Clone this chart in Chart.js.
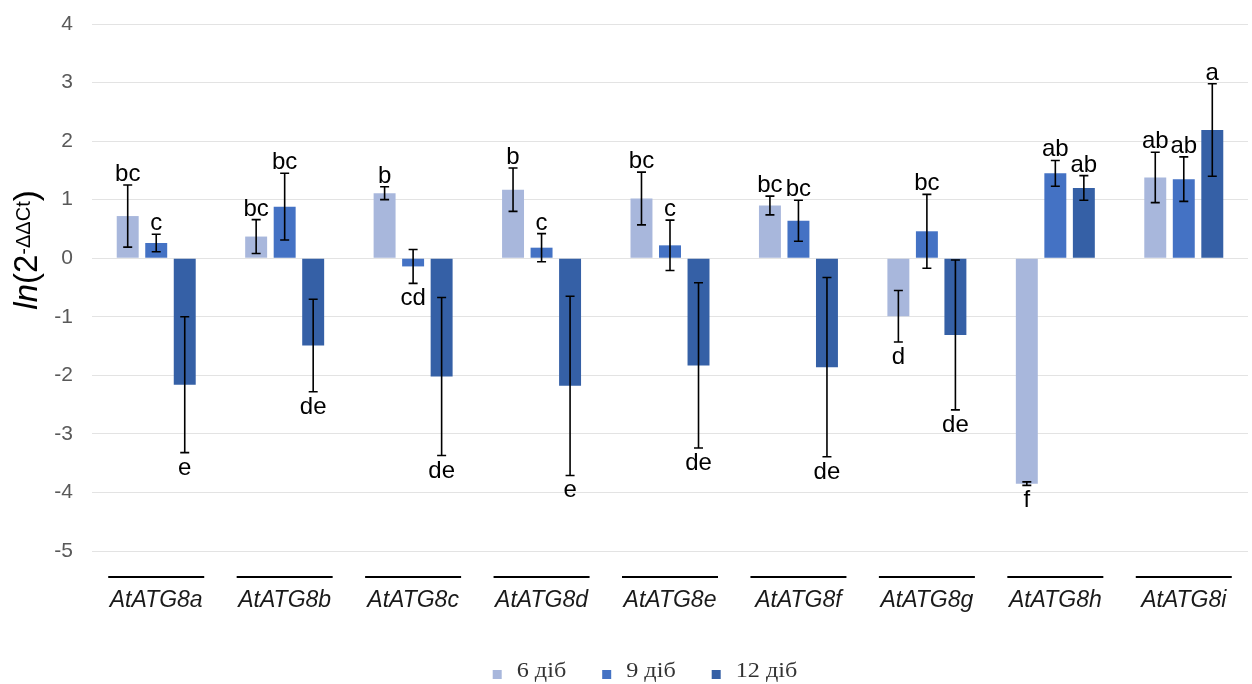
<!DOCTYPE html>
<html>
<head>
<meta charset="utf-8">
<script src="https://cdn.jsdelivr.net/npm/chart.js@4.4.1/dist/chart.umd.min.js"></script>
<style>
  body { margin: 0; background: #fff; }
  #wrap { width: 1252px; height: 684px; }
</style>
</head>
<body>
<div id="wrap"><canvas id="expr" width="1252" height="684"></canvas></div>
<script>
const genes = ["AtATG8a", "AtATG8b", "AtATG8c", "AtATG8d", "AtATG8e", "AtATG8f", "AtATG8g", "AtATG8h", "AtATG8i"];

// ln(2^-ddCt) means and error half-widths
const day6 = [0.72, 0.37, 1.11, 1.17, 1.02, 0.90, -0.99, -3.85, 1.38];
const day6Err = [0.53, 0.29, 0.11, 0.37, 0.45, 0.16, 0.44, 0.03, 0.43];
const day9 = [0.26, 0.88, -0.14, 0.18, 0.22, 0.64, 0.46, 1.45, 1.35];
const day9Err = [0.15, 0.57, 0.29, 0.24, 0.43, 0.35, 0.63, 0.22, 0.38];
const day12 = [-2.16, -1.49, -2.02, -2.18, -1.83, -1.86, -1.31, 1.20, 2.19];
const day12Err = [1.16, 0.79, 1.35, 1.53, 1.41, 1.53, 1.28, 0.21, 0.79];

// significance letters
const day6Letters = ["bc", "bc", "b", "b", "bc", "bc", "d", "f", "ab"];
const day9Letters = ["c", "bc", "cd", "c", "c", "bc", "bc", "ab", "ab"];
const day12Letters = ["e", "de", "de", "e", "de", "de", "de", "ab", "a"];

const seriesNames = ["6 діб", "9 діб", "12 діб"];

const SANS = '"Liberation Sans", Arial, sans-serif';
const SERIF = '"Liberation Serif", "Times New Roman", serif';

function wideText(ctx, txt, x, y, sx, align) {
    ctx.save();
    ctx.translate(x, y);
    ctx.scale(sx, 1);
    ctx.textAlign = align;
    ctx.fillText(txt, 0, 0);
    ctx.restore();
}

const errorBars = {
    id: "errorBars",
    afterDatasetsDraw(chart) {
        const ctx = chart.ctx;
        const y = chart.scales.y;
        chart.data.datasets.forEach((ds, i) => {
            const meta = chart.getDatasetMeta(i);
            meta.data.forEach((bar, j) => {
                const v = ds.data[j];
                const e = ds.errors[j];
                const top = y.getPixelForValue(v + e);
                const bot = y.getPixelForValue(v - e);
                ctx.save();
                ctx.strokeStyle = "#000";
                ctx.lineWidth = 1.6;
                ctx.beginPath();
                ctx.moveTo(bar.x, top);
                ctx.lineTo(bar.x, bot);
                ctx.moveTo(bar.x - 4.5, top);
                ctx.lineTo(bar.x + 4.5, top);
                ctx.moveTo(bar.x - 4.5, bot);
                ctx.lineTo(bar.x + 4.5, bot);
                ctx.stroke();

                ctx.fillStyle = "#000";
                ctx.font = "24px " + SANS;
                ctx.textBaseline = "alphabetic";
                if (v >= 0) {
                    wideText(ctx, ds.letters[j], bar.x, top - 4, 1, "center");
                } else {
                    wideText(ctx, ds.letters[j], bar.x, bot + 22, 1, "center");
                }
                ctx.restore();
            });
        });
    },
    afterDraw(chart) {
        const ctx = chart.ctx;
        const y = chart.scales.y;
        const x = chart.scales.x;

        // y tick labels
        ctx.save();
        ctx.fillStyle = "#595959";
        ctx.font = "21px " + SANS;
        ctx.textBaseline = "middle";
        y.ticks.forEach((t) => {
            wideText(ctx, String(t.value), 73, y.getPixelForValue(t.value), 1, "right");
        });
        ctx.restore();

        // gene names with a rule above each
        ctx.save();
        ctx.strokeStyle = "#000";
        ctx.lineWidth = 2;
        ctx.fillStyle = "#1a1a1a";
        ctx.font = "italic 23px " + SANS;
        ctx.textBaseline = "alphabetic";
        genes.forEach((g, j) => {
            const cx = x.getPixelForValue(j);
            ctx.beginPath();
            ctx.moveTo(cx - 48, 577);
            ctx.lineTo(cx + 48, 577);
            ctx.stroke();
            wideText(ctx, g, cx, 607, 1, "center");
        });
        ctx.restore();

        // y axis title: ln(2^-ΔΔCt)
        ctx.save();
        ctx.translate(0, 250);
        ctx.rotate(-Math.PI / 2);
        ctx.fillStyle = "#000";
        ctx.textBaseline = "alphabetic";
        ctx.textAlign = "left";
        const parts = [
            { t: "ln", f: "italic 33px " + SANS, dy: 0 },
            { t: "(2", f: "33px " + SANS, dy: 0 },
            { t: "-ΔΔCt", f: "20px " + SANS, dy: -7 },
            { t: ")", f: "33px " + SANS, dy: 0 },
        ];
        let total = 0;
        parts.forEach((p) => { ctx.font = p.f; p.w = ctx.measureText(p.t).width; total += p.w; });
        let px = -total / 2;
        parts.forEach((p) => {
            ctx.font = p.f;
            ctx.fillText(p.t, px, 37 + p.dy);
            px += p.w;
        });
        ctx.restore();

        // legend
        ctx.save();
        ctx.font = "22px " + SERIF;
        ctx.textBaseline = "alphabetic";
        const sx = 1.1;
        const widths = seriesNames.map((n) => ctx.measureText(n).width * sx);
        const full = widths.reduce((a, b) => a + b, 0) + 3 * 24 + 2 * 36;
        let lx = 645 - full / 2;
        chart.data.datasets.forEach((ds, i) => {
            ctx.fillStyle = ds.backgroundColor;
            ctx.fillRect(lx, 670, 9, 9);
            ctx.fillStyle = "#333333";
            wideText(ctx, seriesNames[i], lx + 24, 677, sx, "left");
            lx += 24 + widths[i] + 36;
        });
        ctx.restore();
    },
};

new Chart(document.getElementById("expr"), {
    type: "bar",
    data: {
        labels: genes,
        datasets: [
            { label: seriesNames[0], data: day6, errors: day6Err, letters: day6Letters, backgroundColor: "#A8B7DC" },
            { label: seriesNames[1], data: day9, errors: day9Err, letters: day9Letters, backgroundColor: "#4472C4" },
            { label: seriesNames[2], data: day12, errors: day12Err, letters: day12Letters, backgroundColor: "#3560A6" },
        ],
    },
    options: {
        responsive: false,
        animation: false,
        layout: { padding: { left: 0, right: 4, top: 24, bottom: 0 } },
        datasets: {
            bar: { categoryPercentage: 0.666, barPercentage: 0.77 },
        },
        plugins: {
            legend: { display: false },
            tooltip: { enabled: false },
        },
        scales: {
            x: {
                grid: { display: false },
                border: { display: false },
                ticks: { display: false },
                afterFit: (s) => { s.height = 133; },
            },
            y: {
                min: -5,
                max: 4,
                ticks: { stepSize: 1, display: false },
                grid: { color: "#e3e3e3", drawTicks: false },
                border: { display: false },
                afterFit: (s) => { s.width = 92; },
            },
        },
    },
    plugins: [errorBars],
});
</script>
</body>
</html>
